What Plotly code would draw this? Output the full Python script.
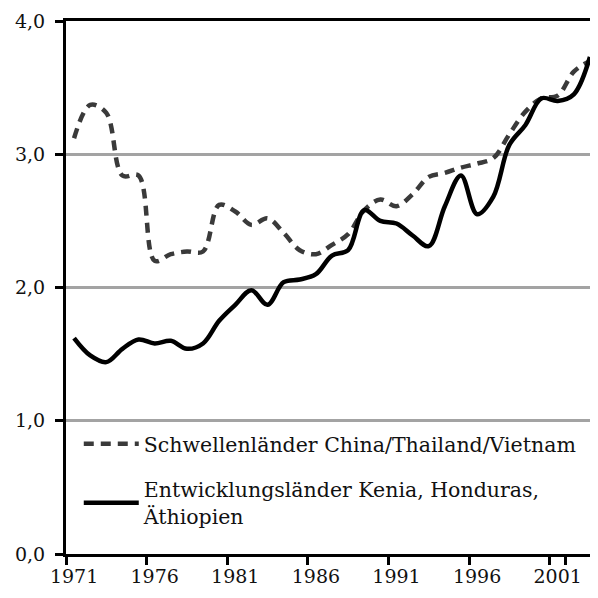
import plotly.graph_objects as go

years = [str(y) for y in range(1971, 2004)]

schwellen = [3.12, 3.37, 3.31, 2.84, 2.84, 2.20, 2.25, 2.27, 2.27, 2.62,
             2.57, 2.47, 2.52, 2.41, 2.28, 2.25, 2.32, 2.40, 2.58, 2.66,
             2.61, 2.70, 2.83, 2.86, 2.90, 2.93, 2.97, 3.15, 3.32, 3.42,
             3.44, 3.62, 3.70]

entwicklung = [1.62, 1.49, 1.44, 1.54, 1.61, 1.58, 1.60, 1.54, 1.58, 1.75,
               1.87, 1.98, 1.87, 2.04, 2.06, 2.10, 2.24, 2.28, 2.58, 2.50,
               2.48, 2.39, 2.31, 2.61, 2.84, 2.55, 2.68, 3.07, 3.22, 3.42,
               3.40, 3.45, 3.73]

name_s = "Schwellenländer China/Thailand/Vietnam"
name_e = "Entwicklungsländer Kenia, Honduras,<br>Äthiopien"

tick_years = ["1971", "1976", "1981", "1986", "1991", "1996", "2001"]
y_ticks = [0, 1, 2, 3, 4]

FONT = "DejaVu Serif"

fig = go.Figure()
fig.add_trace(go.Scatter(
    x=years, y=schwellen, name=name_s, mode="lines", legendgroup="a",
    line=dict(color="#3a3a3a", width=4.5, dash="10px,7px", shape="spline", smoothing=1),
))
fig.add_trace(go.Scatter(
    x=years, y=entwicklung, name=name_e, mode="lines", legendgroup="b",
    line=dict(color="#000000", width=4.5, shape="spline", smoothing=1),
))

fig.update_layout(
    width=590, height=590,
    margin=dict(l=58, r=0, t=13, b=44),
    paper_bgcolor="white", plot_bgcolor="white",
    separators=",.",
    font=dict(family=FONT, size=19, color="#111111"),
    showlegend=True,
    legend=dict(
        x=0.024, y=0.244, xanchor="left", yanchor="top",
        bgcolor="rgba(255,255,255,0)", borderwidth=0,
        font=dict(family=FONT, size=20.5, color="#111111"),
        itemwidth=55, tracegroupgap=16,
    ),
    xaxis=dict(
        type="category", categoryorder="array", categoryarray=years,
        range=[-0.5, 32.5],
        tickmode="array", tickvals=tick_years, ticktext=tick_years,
        tickson="boundaries", tickangle=0, automargin=False,
        ticks="outside", ticklen=8, tickwidth=2.5, tickcolor="black",
        showline=True, linecolor="black", linewidth=3, mirror=True,
        showgrid=False, zeroline=False,
        tickfont=dict(family=FONT, size=19, color="#111111"),
        ticklabelstandoff=3,
    ),
    yaxis=dict(
        range=[0, 4], tickmode="array", tickvals=y_ticks,
        tickformat=".1f", automargin=False,
        ticks="outside", ticklen=8, tickwidth=2.5, tickcolor="black",
        showline=True, linecolor="black", linewidth=3,
        showgrid=True, gridcolor="#a3a3a3", gridwidth=2.5,
        zeroline=False,
        tickfont=dict(family=FONT, size=19, color="#111111"),
        ticklabelstandoff=6,
    ),
)

fig.write_html("out.html")
